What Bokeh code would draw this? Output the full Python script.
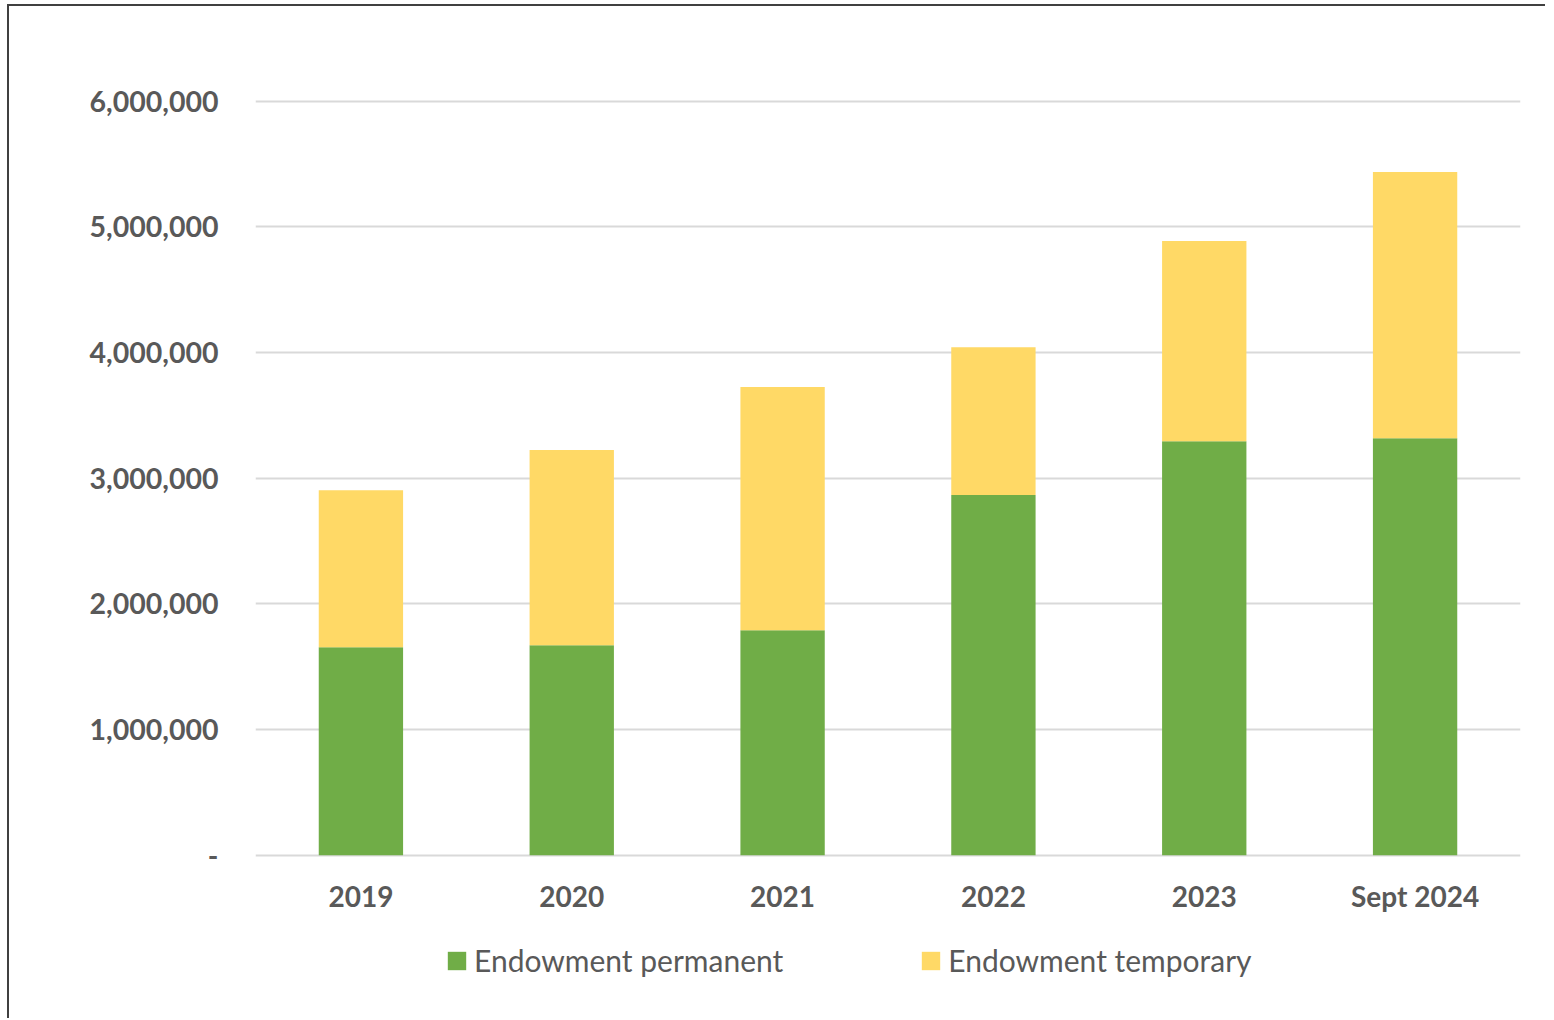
from bokeh.plotting import figure
from bokeh.models import Range1d, FixedTicker, CustomJSTickFormatter, Legend, LegendItem
from bokeh.core.properties import value
from bokeh.embed import file_html
from bokeh.resources import INLINE

categories = ["2019", "2020", "2021", "2022", "2023", "Sept 2024"]
permanent = [1655000, 1671000, 1790000, 2865000, 3294000, 3318000]
temporary = [1249000, 1552000, 1934000, 1177000, 1592000, 2117000]
series = ["Endowment permanent", "Endowment temporary"]
y_ticks = [0, 1000000, 2000000, 3000000, 4000000, 5000000, 6000000]

data = {"cat": categories, "perm": permanent, "temp": temporary,
        "base": [0] * len(categories)}

p = figure(x_range=categories, y_range=Range1d(-1100000, 6020000),
           frame_width=1265, frame_height=895,
           min_border_left=246, min_border_right=25, min_border_top=92, min_border_bottom=25,
           output_backend="svg", toolbar_location=None, outline_line_color=None,
           background_fill_color="white", border_fill_color="white")
p.styles = {"border-left": "2px solid #404040", "border-top": "2px solid #404040",
            "margin-left": "7px", "margin-top": "4px"}

rs = p.vbar_stack(["perm", "temp"], x="cat", width=0.4, source=data,
                  color=["#70AD47", "#FFD966"], line_color=None)

FONT = "Lato"
TXT = "#595959"

p.xgrid.grid_line_color = None
p.ygrid.grid_line_color = "#d9d9d9"
p.ygrid.grid_line_width = 2
p.ygrid.ticker = FixedTicker(ticks=y_ticks)

p.yaxis.ticker = FixedTicker(ticks=y_ticks)
p.yaxis.formatter = CustomJSTickFormatter(code="return tick == 0 ? '-' : tick.toLocaleString('en-US');")
p.yaxis.axis_line_color = None
p.yaxis.major_tick_line_color = None
p.yaxis.minor_tick_line_color = None
p.yaxis.major_label_standoff = 31
p.yaxis.major_label_text_font = FONT
p.yaxis.major_label_text_font_style = "bold"
p.yaxis.major_label_text_font_size = "28.5px"
p.yaxis.major_label_text_color = TXT

p.xaxis.visible = False

# category labels under the baseline
p.text(x="cat", y="base", text="cat", source=data, y_offset=41,
       text_align="center", text_baseline="middle",
       text_font=value(FONT), text_font_style="bold", text_font_size="28px",
       text_color=TXT)

legend = Legend(items=[LegendItem(label=series[0], renderers=[rs[0]]),
                       LegendItem(label=series[1], renderers=[rs[1]])],
                orientation="horizontal", location=(190, 15),
                glyph_width=23, glyph_height=23, label_standoff=6, spacing=136,
                padding=0, margin=0, border_line_color=None, background_fill_alpha=0,
                label_text_font=FONT, label_text_font_size="30px", label_text_color=TXT)
p.add_layout(legend, "center")

open("out.html", "w").write(file_html(p, INLINE))
